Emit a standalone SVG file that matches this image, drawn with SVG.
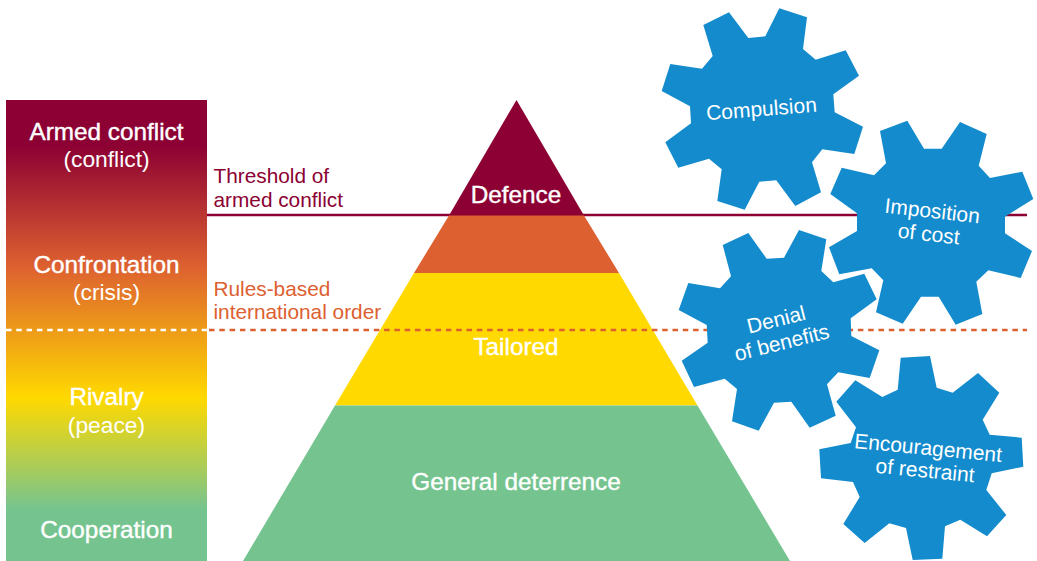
<svg xmlns="http://www.w3.org/2000/svg" width="1037" height="561" viewBox="0 0 1037 561">
<style>
text{font-family:"Liberation Sans",Arial,sans-serif;text-anchor:middle;fill:#fff}
.h{font-size:24.3px;stroke:#fff;stroke-width:.4px}
.s{font-size:22.8px}
.l{font-size:20.8px;text-anchor:start}
.g{font-size:21px}
.gear{fill:#138bcd}
</style>
<defs>
<linearGradient id="bar" x1="0" y1="0" x2="0" y2="1">
<stop offset="0.098" stop-color="#8c0033"/>
<stop offset="0.36" stop-color="#dd6030"/>
<stop offset="0.646" stop-color="#ffd900"/>
<stop offset="0.889" stop-color="#75c490"/>
</linearGradient>
</defs>
<rect id="scale-bar" x="6" y="100" width="201" height="461" fill="url(#bar)"/>
<g id="connectors" fill="none">
<line x1="207" y1="215" x2="1027" y2="215" stroke="#8c0033" stroke-width="2.4"/>
</g>
<g id="pyramid">
<polygon points="516.5,100 584,215.5 449,215.5" fill="#8c0033"/>
<polygon points="449,215.5 584,215.5 619,273 414,273" fill="#dd6030"/>
<polygon points="414,273 619,273 697.5,405.5 335,405.5" fill="#ffd900"/>
<polygon points="335,405.5 697.5,405.5 790,561 243,561" fill="#75c490"/>
<text class="h" x="516" y="203">Defence</text>
<text class="h" x="516" y="355">Tailored</text>
<text class="h" x="516" y="490">General deterrence</text>
</g>
<g id="dashes" fill="none" stroke-width="2.4">
<line x1="6" y1="330" x2="207" y2="330" stroke="#fff" stroke-dasharray="5.5 4.8"/>
<line x1="209" y1="330" x2="1027" y2="330" stroke="#dd6030" stroke-dasharray="5.5 4.8"/>
</g>
<g id="bar-armed"><text class="h" x="106.500" y="140">Armed conflict</text><text class="s" x="106.500" y="167">(conflict)</text></g>
<g id="bar-confrontation"><text class="h" x="106.500" y="273">Confrontation</text><text class="s" x="106.500" y="300">(crisis)</text></g>
<g id="bar-rivalry"><text class="h" x="106.500" y="405">Rivalry</text><text class="s" x="106.500" y="433">(peace)</text></g>
<g id="bar-cooperation"><text class="h" x="106.500" y="538">Cooperation</text></g>
<g id="label-threshold"><text class="l" x="213.500" y="183" style="fill:#8c0033">Threshold of</text><text class="l" x="213.500" y="207" style="fill:#8c0033">armed conflict</text></g>
<g id="label-rules"><text class="l" x="213.500" y="296" style="fill:#dd6030">Rules-based</text><text class="l" x="213.500" y="319" style="fill:#dd6030">international order</text></g>
<g id="gear-compulsion">
<polygon class="gear" points="779.300,8.300 807,17.300 803,49 815.700,59.700 845.700,50.300 859,75.700 833.300,94.300 834.700,112.300 863,126.700 854.300,154 822.300,149.300 812,162.300 821,192.300 795.300,206 776.300,180.300 759.300,181.700 744.700,209.700 717.300,201 721.700,169.300 709,158.700 678.300,167.700 665.300,142.300 691,123.300 690,106.300 661.700,91 670.300,64 702,68.700 712.700,56 703.300,25 729,12.300 748.300,38 765.300,36.300"/>
<text class="g" transform="translate(762 116) rotate(-4.500)">Compulsion</text>
</g>
<g id="gear-imposition">
<polygon class="gear" points="960,122 986.700,134 978.700,165.700 990,178 1022.300,171.700 1033.300,199 1005,216.700 1005,233.300 1032,251 1020.700,278 988.300,270.300 976.300,281.700 982.300,314 955.700,324.700 938.700,296.700 921,296.700 902.700,323.700 876,312.300 883.300,280.300 871.700,268.300 839.300,274.300 829,247.300 857,231 857,213.300 830.300,194 841.700,167.700 874,175.300 886,163.300 880,131 907.300,120.700 924,148.700 941.700,148.700"/>
<text class="g" transform="translate(931.500 218) rotate(6.500)">Imposition</text>
<text class="g" transform="translate(928 241) rotate(6.500)">of cost</text>
</g>
<g id="gear-denial">
<polygon class="gear" points="799,230 826.300,239.300 821.300,271 833.300,282.300 864.300,273.700 876.700,299.300 850.700,318.300 851.300,336 879.300,350.300 869.700,378 838.300,372.300 827,384.300 835.700,415.700 809.700,427.700 791.300,401.700 774,402.700 758.700,430.700 732,421.300 737,389 724.700,378.700 694,387 681.700,360.700 707.700,342.700 706.700,325 678.700,310 688.300,283 720,288.300 731,276.300 722.700,245 748.300,233 766.700,258.700 784,257.700"/>
<text class="g" transform="translate(778 326.500) rotate(-14)">Denial</text>
<text class="g" transform="translate(783.500 349.500) rotate(-14)">of benefits</text>
</g>
<g id="gear-restraint">
<polygon class="gear" points="930,356 936.700,387.700 952.700,392.700 978,373 999.300,392.700 982.700,419.700 989.700,434.700 1021.700,437.700 1023.300,466.700 991.700,473.300 986.300,490 1006.300,515 987,536.300 960.300,519.700 945,526.300 942.300,558.700 912.700,560 906,528 889.300,523.300 864.700,543 843.300,524 859.700,497 853,482 821,478.300 819.300,449.300 850.700,443 856,427.300 836.300,401.700 855.300,380.300 882.300,397 897.700,389.700 900.700,357.700"/>
<text class="g" transform="translate(927.500 455) rotate(5.500)">Encouragement</text>
<text class="g" transform="translate(924.500 477.500) rotate(5.500)">of restraint</text>
</g>
</svg>
